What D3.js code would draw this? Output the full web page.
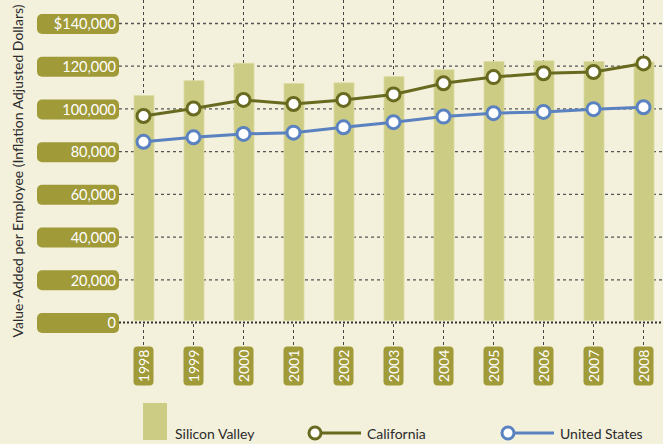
<!DOCTYPE html>
<html>
<head>
<meta charset="utf-8">
<script src="https://cdn.jsdelivr.net/npm/d3@7/dist/d3.min.js"></script>
<style>
  html, body { margin: 0; padding: 0; background: #f3f0dc; }
  svg { display: block; font-family: Lato, "Open Sans", sans-serif; }
</style>
</head>
<body>
<svg id="chart" width="663" height="444"></svg>
<script>
// Value-added per employee, inflation adjusted dollars
const years = ["1998","1999","2000","2001","2002","2003","2004","2005","2006","2007","2008"];
const siliconValley = [106200, 113200, 121400, 111900, 112200, 115100, 118300, 122200, 122500, 122200, 122000];
const california    = [96700, 100200, 104200, 102300, 104200, 106800, 112000, 114900, 116700, 117300, 121300];
const unitedStates  = [84600, 86700, 88300, 88900, 91400, 93800, 96400, 98000, 98600, 99900, 100800];
const yTicks = [0, 20000, 40000, 60000, 80000, 100000, 120000, 140000];
const yTickLabels = ["0", "20,000", "40,000", "60,000", "80,000", "100,000", "120,000", "$140,000"];

const colors = {
  bg: "#f3f0dc",
  pill: "#a09a38",
  bar: "#cdcc85",
  barEdge: "#dcdba0",
  ca: "#676a1f",
  us: "#5b82c0",
  grid: "#444",
  text: "#2b2b2b"
};

const svg = d3.select("#chart");
const x = d3.scalePoint().domain(years).range([143.5, 643.5]);
const y = d3.scaleLinear().domain([0, 140000]).range([322.5, 23.5]);
const baseY = y(0);

// Vertical dashed guides at each year
svg.append("g").selectAll("line").data(years).join("line")
  .attr("x1", d => x(d)).attr("x2", d => x(d))
  .attr("y1", 0).attr("y2", baseY + 24)
  .attr("stroke", colors.grid).attr("stroke-width", 1)
  .attr("stroke-dasharray", "3,3");

// Horizontal dashed guides
svg.append("g").selectAll("line").data(yTicks.filter(t => t > 0)).join("line")
  .attr("x1", 119).attr("x2", 663)
  .attr("y1", d => y(d)).attr("y2", d => y(d))
  .attr("stroke", "#555").attr("stroke-width", 1.3)
  .attr("stroke-dasharray", "3,3");

// Silicon Valley bars
const barW = 20;
svg.append("g").selectAll("rect").data(siliconValley).join("rect")
  .attr("x", (d, i) => x(years[i]) - barW / 2 + 0.5)
  .attr("y", d => y(d))
  .attr("width", barW)
  .attr("height", d => baseY - 2 - y(d))
  .attr("fill", colors.bar)
  .attr("stroke", colors.barEdge).attr("stroke-width", 0.8);

// Baseline
svg.append("line")
  .attr("x1", 119).attr("x2", 663)
  .attr("y1", baseY).attr("y2", baseY)
  .attr("stroke", "#333").attr("stroke-width", 2)
  .attr("stroke-dasharray", "2,2");

// Y axis with pill-shaped labels
const yAxis = d3.axisLeft(y).tickValues(yTicks).tickSize(0).tickPadding(0)
  .tickFormat((d, i) => yTickLabels[i]);
const yg = svg.append("g").attr("transform", "translate(116,0)").call(yAxis);
yg.select(".domain").remove();
yg.selectAll(".tick").insert("rect", "text")
  .attr("x", -79).attr("y", -10).attr("width", 82).attr("height", 20)
  .attr("rx", 5).attr("fill", colors.pill);
yg.selectAll(".tick text")
  .attr("fill", "#fff").attr("font-size", 14.5).attr("dy", "0.36em")
  .attr("font-family", "Lato, 'Open Sans', sans-serif");

// X axis: rotated year labels in pills
const xg = svg.append("g").selectAll("g").data(years).join("g")
  .attr("transform", d => `translate(${x(d)},${baseY + 43.5})`);
xg.append("rect")
  .attr("x", -10).attr("y", -19.5).attr("width", 20).attr("height", 39)
  .attr("rx", 4).attr("fill", colors.pill);
xg.append("text")
  .attr("transform", "rotate(-90)")
  .attr("text-anchor", "middle").attr("dy", "0.36em")
  .attr("fill", "#fff").attr("font-size", 14)
  .text(d => d);

// Line series
function drawSeries(values, color) {
  const pts = values.map((v, i) => [x(years[i]), y(v)]);
  svg.append("path")
    .attr("d", d3.line()(pts))
    .attr("fill", "none").attr("stroke", color).attr("stroke-width", 3);
  svg.append("g").selectAll("circle").data(pts).join("circle")
    .attr("cx", d => d[0]).attr("cy", d => d[1]).attr("r", 6.5)
    .attr("fill", "#fff").attr("stroke", color).attr("stroke-width", 3);
}
drawSeries(california, colors.ca);
drawSeries(unitedStates, colors.us);

// Y axis title
svg.append("text")
  .attr("transform", "translate(22.5,171) rotate(-90)")
  .attr("text-anchor", "middle")
  .attr("fill", colors.text).attr("font-size", 14)
  .text("Value-Added per Employee (Inflation Adjusted Dollars)");

// Legend
const legend = svg.append("g");
legend.append("rect")
  .attr("x", 143).attr("y", 403).attr("width", 24).attr("height", 37)
  .attr("fill", colors.bar);
legend.append("text").attr("x", 175).attr("y", 439)
  .attr("fill", colors.text).attr("font-size", 14).text("Silicon Valley");

function legendLine(x0, color, label) {
  legend.append("line")
    .attr("x1", x0).attr("x2", x0 + 46).attr("y1", 433).attr("y2", 433)
    .attr("stroke", color).attr("stroke-width", 3);
  legend.append("circle")
    .attr("cx", x0).attr("cy", 433).attr("r", 6)
    .attr("fill", "#fff").attr("stroke", color).attr("stroke-width", 3);
  legend.append("text").attr("x", x0 + 52).attr("y", 439)
    .attr("fill", colors.text).attr("font-size", 14).text(label);
}
legendLine(315, colors.ca, "California");
legendLine(508, colors.us, "United States");
</script>
</body>
</html>
